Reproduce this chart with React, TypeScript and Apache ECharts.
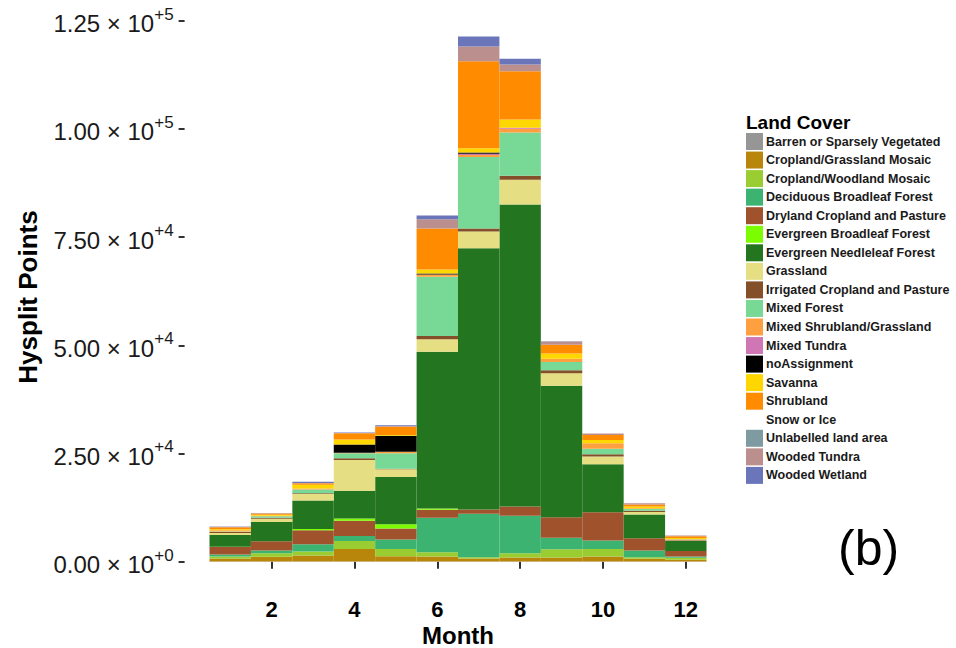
import React, { useEffect, useRef } from "react";
import * as echarts from "echarts";

const months = ["1", "2", "3", "4", "5", "6", "7", "8", "9", "10", "11", "12"];
const yTickValues = [0, 25000, 50000, 75000, 100000, 125000];
const yTickMantissa = ["0.00", "2.50", "5.00", "7.50", "1.00", "1.25"];
const yTickExponent = ["+0", "+4", "+4", "+4", "+5", "+5"];

const landCover = [
  "Barren or Sparsely Vegetated",
  "Cropland/Grassland Mosaic",
  "Cropland/Woodland Mosaic",
  "Deciduous Broadleaf Forest",
  "Dryland Cropland and Pasture",
  "Evergreen Broadleaf Forest",
  "Evergreen Needleleaf Forest",
  "Grassland",
  "Irrigated Cropland and Pasture",
  "Mixed Forest",
  "Mixed Shrubland/Grassland",
  "Mixed Tundra",
  "noAssignment",
  "Savanna",
  "Shrubland",
  "Snow or Ice",
  "Unlabelled land area",
  "Wooded Tundra",
  "Wooded Wetland",
];

const landColors = [
  "#969696", "#B8860B", "#9ACD32", "#3CB371", "#A0522D", "#7CFC00", "#24751F",
  "#E6DE82", "#84502A", "#78D896", "#FFA040", "#D176B4", "#000000", "#FFD700",
  "#FF8C00", "#FFFFFF", "#7F9BA2", "#BC8F8F", "#6B76BA",
];

const barren = [50, 50, 50, 50, 50, 50, 50, 50, 50, 50, 50, 50];
const croplandGrassland = [700, 1100, 1400, 2900, 1200, 1150, 700, 900, 900, 1150, 600, 400];
const croplandWoodland = [450, 800, 900, 1850, 1700, 1000, 300, 1000, 1900, 1700, 400, 450];
const deciduousBroadleaf = [450, 650, 1700, 1150, 2150, 7950, 10000, 8650, 2700, 2000, 1550, 300];
const drylandCropland = [1750, 2100, 3200, 3500, 2550, 1850, 1000, 2150, 4700, 6500, 2800, 1250];
const evergreenBroadleaf = [50, 0, 300, 550, 1000, 300, 0, 0, 0, 0, 0, 0];
const evergreenNeedleleaf = [2700, 4450, 6600, 6400, 10900, 36200, 60400, 69800, 30400, 11100, 5500, 2300];
const grassland = [500, 770, 1500, 7100, 1800, 2900, 3850, 5700, 2900, 1800, 550, 150];
const irrigatedCropland = [200, 250, 150, 400, 100, 750, 700, 900, 700, 550, 300, 100];
const mixedForest = [100, 300, 900, 1150, 3600, 13700, 16500, 10000, 1900, 1250, 400, 100];
const mixedShrubland = [300, 150, 200, 100, 350, 500, 450, 900, 750, 1250, 200, 150];
const mixedTundra = [0, 0, 0, 0, 0, 0, 300, 200, 0, 0, 0, 0];
const noAssignment = [0, 0, 0, 1950, 3700, 250, 300, 0, 0, 0, 0, 0];
const savanna = [250, 250, 900, 1150, 150, 900, 1000, 1900, 1200, 750, 400, 200];
const shrubland = [450, 250, 300, 1400, 1950, 9500, 20100, 11200, 2000, 1150, 450, 450];
const snowIce = [0, 0, 0, 0, 0, 0, 0, 0, 0, 0, 0, 0];
const unlabelled = [0, 0, 0, 0, 0, 0, 0, 0, 0, 0, 0, 0];
const woodedTundra = [100, 100, 100, 100, 150, 2100, 3400, 1550, 750, 350, 300, 150];
const woodedWetland = [100, 50, 250, 100, 150, 900, 2300, 1300, 100, 0, 0, 0];

const seriesValues = [
  barren, croplandGrassland, croplandWoodland, deciduousBroadleaf, drylandCropland,
  evergreenBroadleaf, evergreenNeedleleaf, grassland, irrigatedCropland, mixedForest,
  mixedShrubland, mixedTundra, noAssignment, savanna, shrubland, snowIce, unlabelled,
  woodedTundra, woodedWetland,
];

const FONT = "'Liberation Sans', Arial, Helvetica, sans-serif";

export default function App() {
  const ref = useRef<HTMLDivElement>(null);

  useEffect(() => {
    if (!ref.current) return;
    const chart = echarts.init(ref.current, undefined, { renderer: "svg" });

    const series = landCover.map((name, i) => ({
      name,
      type: "bar",
      stack: "total",
      barCategoryGap: 0,
      itemStyle: { color: landColors[i] },
      data: seriesValues[i],
    }));

    chart.setOption({
      animation: false,
      backgroundColor: "#ffffff",
      textStyle: { fontFamily: FONT },
      grid: {
        left: 209.5,
        right: 249.5,
        top: 9.9,
        bottom: 58.2,
        outerBoundsMode: "none",
        containLabel: false,
      },
      legend: {
        orient: "vertical",
        left: 746,
        top: 133,
        padding: 0,
        itemWidth: 17,
        itemHeight: 17,
        itemGap: 1.55,
        icon: "rect",
        selectedMode: false,
        data: landCover,
        textStyle: {
          fontFamily: FONT,
          fontSize: 12.5,
          fontWeight: "bold",
          color: "#1a1a1a",
          padding: [0, 0, 0, -2],
        },
      },
      xAxis: {
        type: "category",
        data: months,
        boundaryGap: true,
        splitLine: { show: false },
        axisLine: { show: false },
        axisTick: {
          show: true,
          length: 7,
          alignWithLabel: true,
          interval: (index: number) => index % 2 === 1,
          lineStyle: { color: "#333333", width: 2 },
        },
        axisLabel: {
          interval: (index: number) => index % 2 === 1,
          margin: 9,
          fontSize: 22,
          lineHeight: 22,
          fontWeight: "bold",
          color: "#000000",
          fontFamily: FONT,
        },
      },
      yAxis: {
        type: "value",
        min: -6500,
        max: 127500,
        offset: 24.9,
        splitLine: { show: false },
        axisLine: { show: false },
        axisTick: {
          show: true,
          length: 6,
          customValues: yTickValues,
          lineStyle: { color: "#333333", width: 2 },
        },
        axisLabel: {
          customValues: yTickValues,
          margin: 11,
          formatter: (v: number) => {
            const i = yTickValues.findIndex((t) => Math.abs(t - v) < 1);
            if (i < 0) return "";
            return `{m|${yTickMantissa[i]} × 10}{e|${yTickExponent[i]}}`;
          },
          rich: {
            m: {
              fontSize: 24,
              lineHeight: 30,
              color: "#1a1a1a",
              fontFamily: FONT,
              verticalAlign: "bottom",
            },
            e: {
              fontSize: 17,
              lineHeight: 17,
              color: "#1a1a1a",
              fontFamily: FONT,
              verticalAlign: "top",
            },
          },
        },
      },
      graphic: [
        {
          type: "text",
          x: 28,
          y: 297,
          rotation: Math.PI / 2,
          style: {
            text: "Hysplit Points",
            fontFamily: FONT,
            fontSize: 26,
            fontWeight: "bold",
            fill: "#000000",
            align: "center",
            verticalAlign: "middle",
          },
        },
        {
          type: "text",
          x: 458,
          y: 635,
          style: {
            text: "Month",
            fontFamily: FONT,
            fontSize: 24,
            lineHeight: 24,
            fontWeight: "bold",
            fill: "#000000",
            align: "center",
            verticalAlign: "middle",
          },
        },
        {
          type: "text",
          x: 746,
          y: 122,
          style: {
            text: "Land Cover",
            fontFamily: FONT,
            fontSize: 19,
            fontWeight: "bold",
            fill: "#000000",
            align: "left",
            verticalAlign: "middle",
          },
        },
        {
          type: "text",
          x: 838,
          y: 548,
          style: {
            text: "(b)",
            fontFamily: FONT,
            fontSize: 50,
            fill: "#000000",
            align: "left",
            verticalAlign: "middle",
          },
        },
      ],
      series,
    });

    return () => {
      chart.dispose();
    };
  }, []);

  return (
    <div
      ref={ref}
      style={{
        position: "absolute",
        left: 0,
        top: 0,
        width: 956,
        height: 648,
        background: "#ffffff",
      }}
    />
  );
}
